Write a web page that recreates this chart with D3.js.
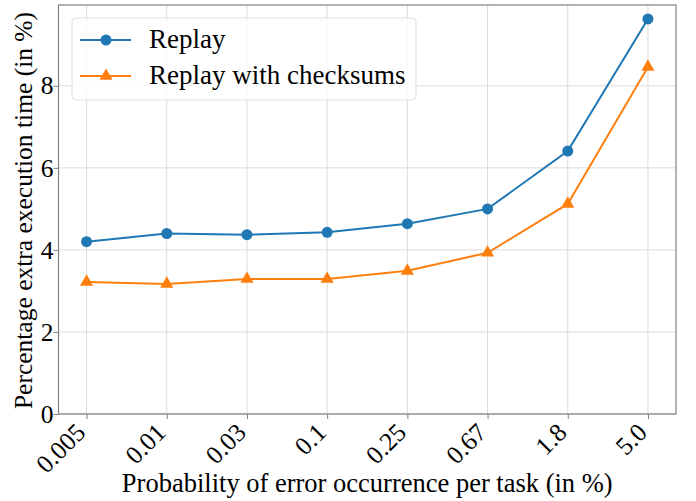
<!DOCTYPE html>
<html lang="en">
  <head>
    <meta charset="utf-8">
    <title>Replay overhead</title>
    <script src="https://d3js.org/d3.v7.js"></script>
    <style>
      body { margin: 0; background: #fff; }
      text { font-family: "Liberation Serif", serif; fill: #000; }
    </style>
  </head>
  <body>
    <script type="text/javascript">

      // chart data
      var probLabels = ["0.005", "0.01", "0.03", "0.1", "0.25", "0.67", "1.8", "5.0"];
      var replay = [4.20, 4.40, 4.37, 4.43, 4.64, 5.00, 6.41, 9.63];
      var replayChecksums = [3.22, 3.17, 3.29, 3.29, 3.49, 3.93, 5.12, 8.46];
      var yTicks = [0, 2, 4, 6, 8];
      var seriesNames = ["Replay", "Replay with checksums"];
      var seriesColors = ["#1f77b4", "#ff7f0e"];

      var w = 696;
      var h = 501;
      var margin = {top: 5, right: 20, bottom: 87, left: 58.5};
      var innerWidth = w - margin.left - margin.right;
      var innerHeight = h - margin.top - margin.bottom;

      var xScale = d3.scaleLinear()
        .domain([-0.35, probLabels.length - 1 + 0.35])
        .range([0, innerWidth]);

      var yScale = d3.scaleLinear()
        .domain([0, 9.97])
        .range([innerHeight, 0]);

      var svg = d3.select("body")
        .append("svg")
          .attr("width", w)
          .attr("height", h);

      var chart = svg.append("g")
        .attr("transform", `translate(${margin.left}, ${margin.top})`);

      // grid lines
      chart.selectAll(".vgrid")
        .data(probLabels).enter().append("line")
        .attr("x1", (d, i) => xScale(i))
        .attr("x2", (d, i) => xScale(i))
        .attr("y1", 0)
        .attr("y2", innerHeight)
        .attr("stroke", "#dcdcdc")
        .attr("stroke-width", 1);

      chart.selectAll(".hgrid")
        .data(yTicks).enter().append("line")
        .attr("x1", 0)
        .attr("x2", innerWidth)
        .attr("y1", d => yScale(d))
        .attr("y2", d => yScale(d))
        .attr("stroke", "#dcdcdc")
        .attr("stroke-width", 1);

      // axes
      var xAxis = d3.axisBottom(xScale)
        .tickValues(d3.range(probLabels.length))
        .tickFormat(i => probLabels[i])
        .tickSize(5)
        .tickSizeOuter(0);

      var yAxis = d3.axisLeft(yScale)
        .tickValues(yTicks)
        .tickFormat(d3.format("d"))
        .tickSize(5)
        .tickSizeOuter(0);

      var gx = chart.append("g")
        .attr("transform", `translate(0, ${innerHeight})`)
        .call(xAxis);
      gx.select(".domain").remove();
      gx.selectAll(".tick line").attr("stroke", "#808080");
      gx.selectAll(".tick text")
        .attr("font-size", 25.5)
        .attr("text-anchor", "end")
        .attr("dy", null)
        .attr("y", 0)
        .attr("transform", "translate(0, 20) rotate(-45)");

      var gy = chart.append("g").call(yAxis);
      gy.select(".domain").remove();
      gy.selectAll(".tick line").attr("stroke", "#808080");
      gy.selectAll(".tick text")
        .attr("font-size", 25.5)
        .attr("x", -5);

      // frame
      chart.append("rect")
        .attr("x", 0)
        .attr("y", 0)
        .attr("width", innerWidth)
        .attr("height", innerHeight)
        .attr("fill", "none")
        .attr("stroke", "#808080")
        .attr("stroke-width", 1.2);

      // lines
      var line = d3.line()
        .x((d, i) => xScale(i))
        .y(d => yScale(d));

      [replay, replayChecksums].forEach(function(data, k) {
        chart.append("path")
          .datum(data)
          .attr("fill", "none")
          .attr("stroke", seriesColors[k])
          .attr("stroke-width", 2)
          .attr("d", line);
      });

      chart.selectAll(".dot")
        .data(replay).enter().append("circle")
        .attr("cx", (d, i) => xScale(i))
        .attr("cy", d => yScale(d))
        .attr("r", 5.5)
        .attr("fill", seriesColors[0]);

      var tri = d3.symbol().type(d3.symbolTriangle).size(75);
      chart.selectAll(".tri")
        .data(replayChecksums).enter().append("path")
        .attr("d", tri)
        .attr("transform", (d, i) => `translate(${xScale(i)}, ${yScale(d)})`)
        .attr("fill", seriesColors[1]);

      // legend
      var legend = svg.append("g");
      legend.append("rect")
        .attr("x", 72)
        .attr("y", 18)
        .attr("width", 344)
        .attr("height", 82)
        .attr("rx", 4)
        .attr("fill", "white")
        .attr("fill-opacity", 0.8)
        .attr("stroke", "#e0e0e0");

      seriesNames.forEach(function(name, k) {
        var ly = 40 + k * 36;
        legend.append("line")
          .attr("x1", 80).attr("x2", 131)
          .attr("y1", ly).attr("y2", ly)
          .attr("stroke", seriesColors[k])
          .attr("stroke-width", 2);
        if (k == 0) {
          legend.append("circle")
            .attr("cx", 106).attr("cy", ly).attr("r", 5.5)
            .attr("fill", seriesColors[k]);
        } else {
          legend.append("path")
            .attr("d", tri)
            .attr("transform", `translate(106, ${ly})`)
            .attr("fill", seriesColors[k]);
        }
        legend.append("text")
          .attr("x", 149)
          .attr("y", ly + 8)
          .attr("font-size", 27)
          .text(name);
      });

      // axis labels
      svg.append("text")
        .attr("x", margin.left + innerWidth / 2)
        .attr("y", 492)
        .attr("text-anchor", "middle")
        .attr("font-size", 26.5)
        .text("Probability of error occurrence per task (in %)");

      svg.append("text")
        .attr("transform", `translate(32, ${margin.top + innerHeight / 2 + 1}) rotate(-90)`)
        .attr("text-anchor", "middle")
        .attr("font-size", 25.5)
        .text("Percentage extra execution time (in %)");

    </script>
  </body>
</html>
